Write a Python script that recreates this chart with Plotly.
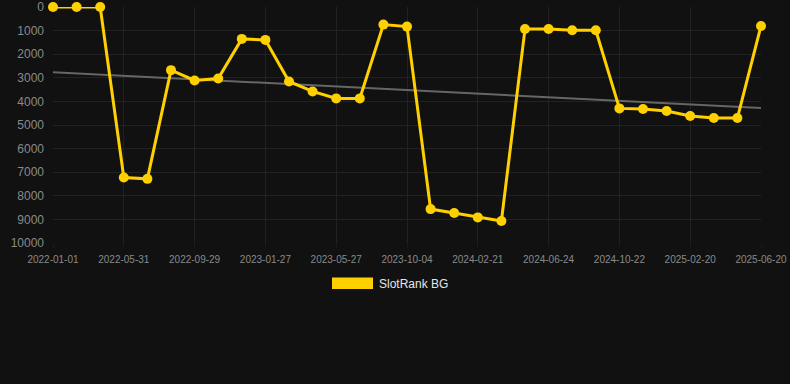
import numpy as np
import plotly.graph_objects as go

tick_labels = ["2022-01-01", "2022-05-31", "2022-09-29", "2023-01-27", "2023-05-27",
               "2023-10-04", "2024-02-21", "2024-06-24", "2024-10-22", "2025-02-20", "2025-06-20"]
ranks = [0, 0, 0, 7225, 7282, 2676, 3113, 3028, 1352, 1394, 3155, 3577, 3873, 3873, 746,
         831, 8563, 8732, 8915, 9070, 930, 930, 986, 986, 4296, 4324, 4408, 4620, 4704, 4704, 803]
series_name = "SlotRank BG"

idx = np.arange(len(ranks))
slope, intercept = np.polyfit(idx, ranks, 1)
trend = slope * idx + intercept

L, R, T, B = 53, 29, 7, 141
W, H = 790, 384
PW, PH = W - L - R, H - T - B

def px(x):
    return (x - L) / PW

def py(y):
    return (H - B - y) / PH

fig = go.Figure()
fig.add_trace(go.Scatter(x=idx, y=trend, mode="lines", line=dict(color="#666666", width=2),
                         showlegend=False, hoverinfo="skip"))
fig.add_trace(go.Scatter(x=idx, y=ranks, mode="lines+markers", name=series_name,
                         line=dict(color="#FFD000", width=3),
                         marker=dict(color="#FFD000", size=10), cliponaxis=False,
                         showlegend=False))

# custom legend: wide swatch + label
fig.add_shape(type="rect", xref="paper", yref="paper",
              x0=px(332), x1=px(373), y0=py(289), y1=py(277.5),
              fillcolor="#FFD000", line=dict(width=0))
fig.add_annotation(xref="paper", yref="paper", x=px(377), y=py(284),
                   xanchor="left", yanchor="middle", showarrow=False,
                   text=series_name, font=dict(color="#e6e6e6", size=12))

fig.update_layout(
    width=W, height=H,
    paper_bgcolor="#111111", plot_bgcolor="#111111",
    margin=dict(l=L, r=R, t=T, b=B, autoexpand=False),
    font=dict(family="Liberation Sans, Arial, sans-serif", color="#8a8a8a"),
    showlegend=False,
    xaxis=dict(range=[0, len(ranks) - 1], tickmode="array", automargin=False,
               tickvals=list(range(0, len(ranks), 3)), ticktext=tick_labels,
               showgrid=True, gridcolor="#222222", zeroline=False, showline=False,
               tickfont=dict(size=10, color="#8a8a8a"), ticks="outside", ticklen=4,
               tickcolor="#1a1a1a", ticklabelstandoff=3),
    yaxis=dict(range=[10000, 0], tickmode="linear", tick0=0, dtick=1000, tickformat="d",
               automargin=False,
               showgrid=True, gridcolor="#222222", zeroline=False, showline=False,
               tickfont=dict(size=12, color="#8a8a8a"), ticks="", ticklabelstandoff=8),
)

fig.write_html("out.html", config={"displayModeBar": False},
               post_script="document.body.style.margin='0';document.body.style.background='#111111';")
